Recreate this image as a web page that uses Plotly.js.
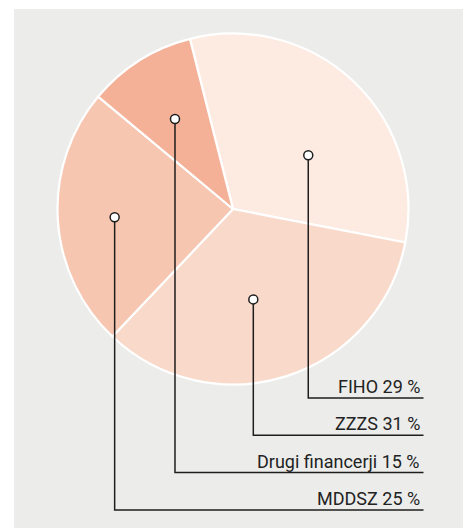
<!DOCTYPE html>
<html>
<head>
<meta charset="utf-8">
<script src="https://cdn.plot.ly/plotly-3.0.1.min.js"></script>
<style>html,body{margin:0;padding:0;background:#fff;}#chart{width:470px;height:528px;}</style>
</head>
<body>
<div id="chart"></div>
<script>
// ---- data ----
const categories = ["FIHO", "ZZZS", "MDDSZ", "Drugi financerji"];
const sliceValues = [32, 34, 24, 10];          // slice sizes as drawn in the picture
const labelPercents = [29, 31, 25, 15];        // percentages printed in the labels
const labelOrder = ["FIHO", "ZZZS", "Drugi financerji", "MDDSZ"]; // top-to-bottom label rows

// ---- styling / layout config ----
const W = 470, H = 528;
const sliceColors = ["#fdebe2", "#f9d9ca", "#f7c6b0", "#f4b197"];
const rotation = -14.2;
const pieCx = 233, pieCy = 209, pieR = 175.5;
// marker anchor: fraction along slice angle, fraction of radius
const anchorAngFrac = [0.596, 0.542, 0.493, 0.483];
const anchorRadFrac = [0.527, 0.528, 0.676, 0.61];
const rowTop = 398, rowStep = 37.3, lineRight = 423.5, textRight = 421.5;
const markerR = 4.5;

const px = x => x / W;
const py = y => 1 - y / H;

const trace = {
  type: "pie",
  labels: categories,
  values: sliceValues,
  sort: false,
  direction: "clockwise",
  rotation: rotation,
  textinfo: "none",
  hoverinfo: "label+percent",
  marker: { colors: sliceColors, line: { color: "#ffffff", width: 2.2 } },
  domain: { x: [px(pieCx - pieR), px(pieCx + pieR)], y: [py(pieCy + pieR), py(pieCy - pieR)] },
  showlegend: false
};

// compute anchors from slice geometry
const total = sliceValues.reduce((a, b) => a + b, 0);
let start = rotation;
const anchors = sliceValues.map((v, i) => {
  const span = v / total * 360;
  const ang = (start + anchorAngFrac[i] * span) * Math.PI / 180;
  start += span;
  const r = pieR * anchorRadFrac[i];
  return [pieCx + r * Math.sin(ang), pieCy - r * Math.cos(ang)];
});

const shapes = [{
  type: "rect", xref: "paper", yref: "paper", layer: "below",
  x0: px(14), x1: px(463), y0: py(530), y1: py(9),
  fillcolor: "#ecedeb", line: { width: 0 }
}];
const annotations = [];

categories.forEach((cat, i) => {
  const row = labelOrder.indexOf(cat);
  const yRow = rowTop + row * rowStep;
  const [ax, ay] = anchors[i];
  shapes.push({
    type: "path", xref: "paper", yref: "paper", layer: "above",
    path: `M ${px(ax)} ${py(ay + markerR)} L ${px(ax)} ${py(yRow)} L ${px(lineRight)} ${py(yRow)}`,
    line: { color: "#1e1e1e", width: 1.5 }
  });
  shapes.push({
    type: "circle", xref: "paper", yref: "paper", layer: "above",
    xsizemode: "pixel", ysizemode: "pixel", xanchor: px(ax), yanchor: py(ay),
    x0: -markerR, x1: markerR, y0: -markerR, y1: markerR,
    fillcolor: "#ffffff", line: { color: "#1e1e1e", width: 1.5 }
  });
  annotations.push({
    xref: "paper", yref: "paper", x: px(textRight), y: py(yRow - 11.5),
    xanchor: "right", yanchor: "middle", showarrow: false,
    text: `${cat} ${labelPercents[i]} %`,
    font: { family: "Roboto, 'DejaVu Sans', sans-serif", size: 18, color: "#222222" }
  });
});

const layout = {
  width: W, height: H,
  margin: { l: 0, r: 0, t: 0, b: 0 },
  paper_bgcolor: "#ffffff",
  shapes: shapes,
  annotations: annotations,
  showlegend: false
};

Plotly.newPlot("chart", [trace], layout, { displayModeBar: false, staticPlot: true });
</script>
</body>
</html>
